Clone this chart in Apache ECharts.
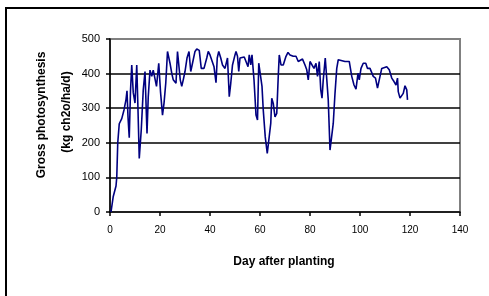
<!DOCTYPE html>
<html>
<head>
<meta charset="utf-8">
<script src="https://cdn.jsdelivr.net/npm/echarts@6/dist/echarts.min.js"></script>
<style>
html,body{margin:0;padding:0;background:#fff;}
#c{width:489px;height:296px;}
</style>
</head>
<body>
<div id="c"></div>
<script>
// Day after planting (x) and gross photosynthesis (kg ch2o/ha/d)
var days = [0.4,1.3,2.4,2.7,3.1,3.7,4.3,4.7,5.6,6.4,6.8,7.2,7.7,8.2,8.7,9.3,10,10.7,11.2,11.7,12.5,13.3,14,14.8,15.3,16,16.7,17.3,18,18.6,19.5,20.2,21,21.6,22.3,23,23.7,24,24.7,25.3,26.4,27,27.8,28.1,28.7,29.3,30,30.8,31.6,32.3,33,34,34.7,35.7,36.5,37.6,38.7,39.3,40,40.8,41.6,42.4,42.9,43.5,44.3,45,46,47,47.7,48.3,49,50,50.4,51,51.5,52,52.8,53.7,54.4,55.2,55.7,56.3,56.8,57.6,58.4,59,59.5,60.3,60.8,61.3,62.1,62.9,63.7,64.3,64.7,65.3,66,66.7,67.3,67.7,68.4,69.3,70.4,71.2,72,73.3,74.4,75.3,76,77,78,78.7,79.3,80,80.8,81.6,82.4,83,83.7,84.3,84.8,85.3,86.1,86.9,87.3,88,88.7,89.3,90,90.7,91.3,92,94,95.7,96.7,97.6,98.4,99.2,99.7,100.4,101.3,102.3,103,104,104.7,105.3,106.2,107,107.7,108.7,110.7,111.7,112.7,113.6,114.4,115,115.3,116,116.7,117.3,118,118.7,119];
var gross = [0,45,75,100,200,255,258,270,295,325,350,275,215,350,425,345,315,425,295,155,237,353,406,227,333,410,392,410,415,363,430,348,280,314,372,464,469,430,401,382,372,464,464,382,363,382,406,445,464,406,430,464,471,467,415,415,445,464,454,459,420,374,445,464,445,425,415,445,333,372,425,454,464,450,406,445,450,448,450,420,454,425,454,382,280,266,430,425,363,295,217,169,169,256,329,314,275,285,392,454,425,425,450,461,454,450,450,435,440,442,425,411,382,435,430,415,430,392,435,353,329,382,445,448,324,179,174,256,343,415,440,435,435,435,392,367,355,401,382,415,430,430,415,415,411,392,387,358,382,415,420,411,387,377,367,387,348,329,329,343,365,353,324];
var xTicks = [0,20,40,60,80,100,120,140];
var yTicks = [0,100,200,300,400,500];

var pts = days.map(function(d,i){return [d, gross[i]];});
var chart = echarts.init(document.getElementById('c'), null, {renderer:'canvas'});
chart.setOption({
  animation:false,
  backgroundColor:'#fff',
  grid:{left:110,right:29,top:39,bottom:84,show:true,borderColor:'#808080',borderWidth:2,backgroundColor:'#fff'},
  xAxis:{type:'value',min:xTicks[0],max:xTicks[xTicks.length-1],interval:20,
    axisLine:{onZero:false,lineStyle:{color:'#000',width:1.5}},
    axisTick:{show:true,length:4,lineStyle:{color:'#000',width:1.5}},
    axisLabel:{color:'#000',fontSize:10,fontFamily:'Liberation Sans, Arial',margin:13},
    splitLine:{show:false}},
  yAxis:{type:'value',min:yTicks[0],max:yTicks[yTicks.length-1],interval:100,
    axisLine:{show:true,lineStyle:{color:'#000',width:1.5}},
    axisTick:{show:true,length:4,lineStyle:{color:'#000',width:1.5}},
    axisLabel:{color:'#000',fontSize:11,fontFamily:'Liberation Sans, Arial',margin:10},
    splitLine:{show:true,showMinLine:false,showMaxLine:false,lineStyle:{color:'#000',width:1.5}}},
  graphic:[
    {type:'rect',shape:{x:6,y:8,width:600,height:400},style:{fill:null,stroke:'#000',lineWidth:2},silent:true,z:100},
    {type:'text',x:42,y:115,rotation:Math.PI/2,style:{text:'Gross photosynthesis',font:'bold 12px "Liberation Sans", Arial',fill:'#000',align:'center',verticalAlign:'middle'}},
    {type:'text',x:67,y:112,rotation:Math.PI/2,style:{text:'(kg ch2o/ha/d)',font:'bold 12px "Liberation Sans", Arial',fill:'#000',align:'center',verticalAlign:'middle'}},
    {type:'text',x:284,y:262,style:{text:'Day after planting',font:'bold 12px "Liberation Sans", Arial',fill:'#000',align:'center',verticalAlign:'middle'}}
  ],
  series:[{type:'line',data:pts,showSymbol:false,lineStyle:{color:'#000080',width:1.6},z:5}]
});
</script>
</body>
</html>
